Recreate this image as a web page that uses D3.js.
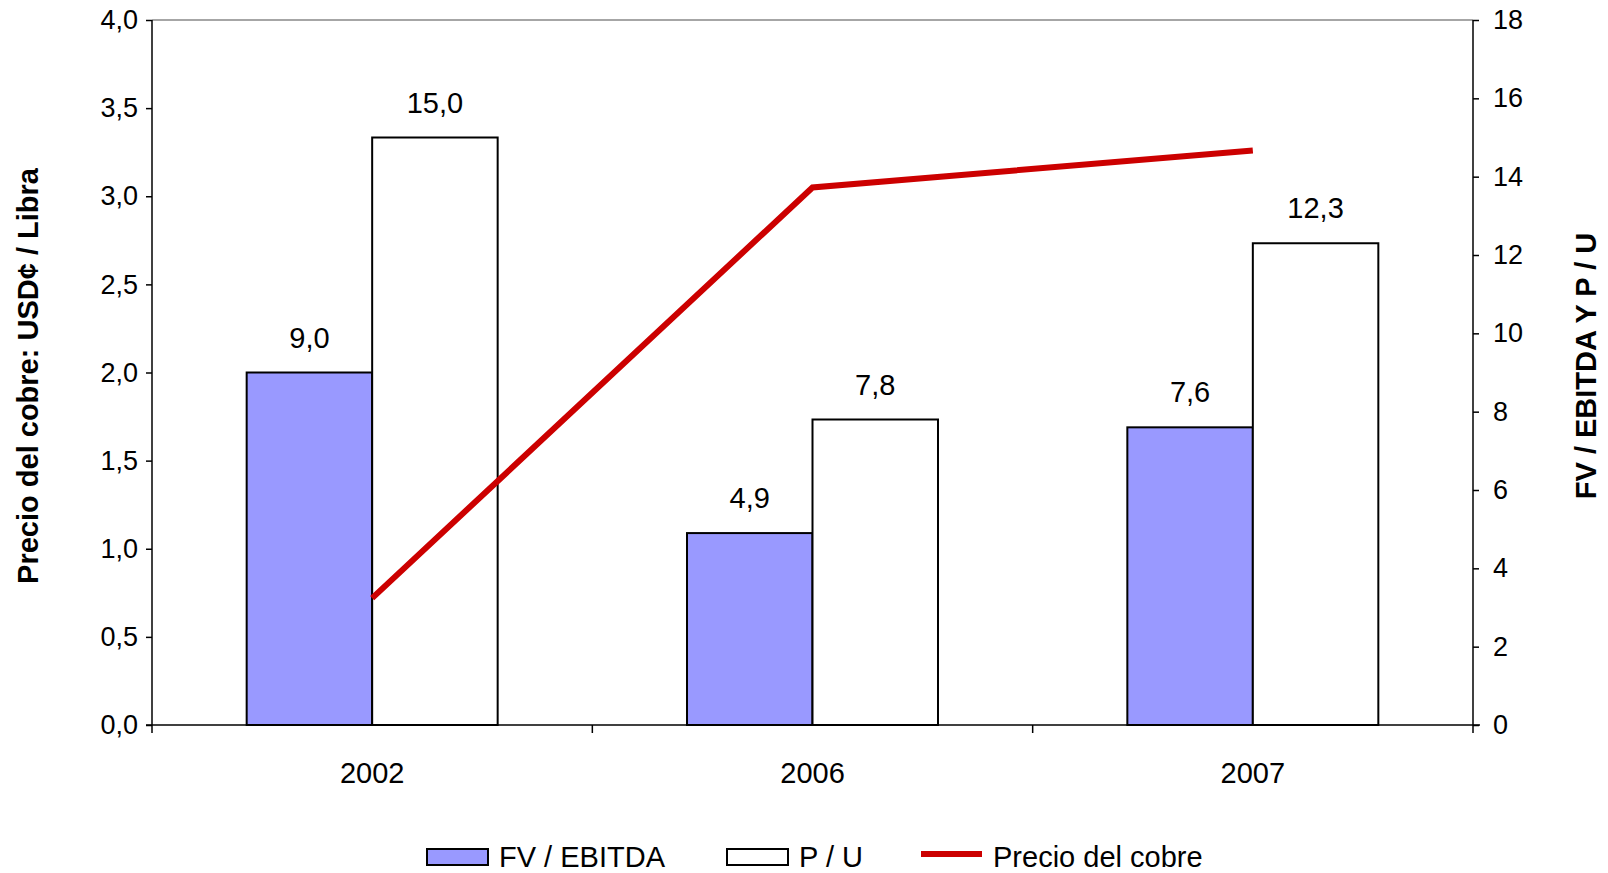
<!DOCTYPE html>
<html>
<head>
<meta charset="utf-8">
<script src="https://cdn.jsdelivr.net/npm/d3@7"></script>
<style>
  html, body { margin: 0; padding: 0; background: #fff; }
  svg { display: block; font-family: "Liberation Sans", Arial, sans-serif; }
</style>
</head>
<body>
<svg id="chart" width="1608" height="873"></svg>
<script>
const categories = ["2002", "2006", "2007"];
const fvEbitda = [9.0, 4.9, 7.6];
const precioUtilidad = [15.0, 7.8, 12.3];
const precioCobre = [0.72, 3.05, 3.26];
const leftTicks = [0, 0.5, 1.0, 1.5, 2.0, 2.5, 3.0, 3.5, 4.0];
const rightTicks = [0, 2, 4, 6, 8, 10, 12, 14, 16, 18];
const seriesNames = ["FV / EBITDA", "P / U", "Precio del cobre"];
const leftTitle = "Precio del cobre: USD¢ / Libra";
const rightTitle = "FV / EBITDA Y P / U";

const locale = d3.formatLocale({decimal: ",", thousands: ".", grouping: [3], currency: ["", ""]});
const f1 = locale.format(".1f");
const f0 = locale.format("d");

const svg = d3.select("#chart");
const L = 152, R = 1473, T = 20, B = 725;

const x = d3.scaleBand().domain(categories).range([L, R]).paddingInner(0).paddingOuter(0);
const yL = d3.scaleLinear().domain([0, 4]).range([B, T]);
const yR = d3.scaleLinear().domain([0, 18]).range([B, T]);
const barW = x.bandwidth() * 0.285;

// plot border top (gray)
svg.append("line").attr("x1", L).attr("x2", R).attr("y1", T).attr("y2", T)
  .attr("stroke", "#888").attr("stroke-width", 1.5);

// bars
const g = svg.append("g");
categories.forEach((c, i) => {
  const cx = x(c) + x.bandwidth() / 2;
  g.append("rect").attr("x", cx - barW).attr("y", yR(fvEbitda[i]))
    .attr("width", barW).attr("height", yR(0) - yR(fvEbitda[i]))
    .attr("fill", "#9999FF").attr("stroke", "#000").attr("stroke-width", 2);
  g.append("rect").attr("x", cx).attr("y", yR(precioUtilidad[i]))
    .attr("width", barW).attr("height", yR(0) - yR(precioUtilidad[i]))
    .attr("fill", "#fff").attr("stroke", "#000").attr("stroke-width", 2);
  g.append("text").attr("x", cx - barW / 2).attr("y", yR(fvEbitda[i]) - 25)
    .attr("text-anchor", "middle").attr("font-size", 29).text(f1(fvEbitda[i]));
  g.append("text").attr("x", cx + barW / 2).attr("y", yR(precioUtilidad[i]) - 25)
    .attr("text-anchor", "middle").attr("font-size", 29).text(f1(precioUtilidad[i]));
});

// copper line
const line = d3.line()
  .x((d, i) => x(categories[i]) + x.bandwidth() / 2)
  .y(d => yL(d));
svg.append("path").datum(precioCobre).attr("d", line)
  .attr("fill", "none").attr("stroke", "#CC0000").attr("stroke-width", 6)
  .attr("stroke-linejoin", "miter");

// left axis
const axL = d3.axisLeft(yL).tickValues(leftTicks).tickFormat(f1).tickSize(6).tickPadding(8);
const gL = svg.append("g").attr("transform", `translate(${L},0)`).call(axL);
gL.select(".domain").attr("stroke", "#000").attr("stroke-width", 1.5).attr("d", `M0,${T}V${B}`);
gL.selectAll(".tick line").attr("stroke", "#000").attr("stroke-width", 1.5);
gL.selectAll(".tick text").attr("font-size", 27).attr("fill", "#000").attr("font-family", "Liberation Sans, Arial, sans-serif");

// right axis
const axR = d3.axisRight(yR).tickValues(rightTicks).tickFormat(f0).tickSize(6).tickPadding(14);
const gR = svg.append("g").attr("transform", `translate(${R},0)`).call(axR);
gR.select(".domain").attr("stroke", "#000").attr("stroke-width", 1.5).attr("d", `M0,${T}V${B}`);
gR.selectAll(".tick line").attr("stroke", "#000").attr("stroke-width", 1.5);
gR.selectAll(".tick text").attr("font-size", 27).attr("fill", "#000").attr("font-family", "Liberation Sans, Arial, sans-serif");

// bottom axis
const axB = d3.axisBottom(x).tickSize(0).tickPadding(0);
const gB = svg.append("g").attr("transform", `translate(0,${B})`).call(axB);
gB.select(".domain").remove();
gB.selectAll(".tick text").attr("font-size", 29).attr("fill", "#000")
  .attr("dy", null).attr("y", 58).attr("font-family", "Liberation Sans, Arial, sans-serif");
svg.append("line").attr("x1", L - 6).attr("x2", R + 7).attr("y1", B).attr("y2", B)
  .attr("stroke", "#000").attr("stroke-width", 1.5);
const bounds = categories.map(c => x(c)).concat([R]);
svg.selectAll(".btick").data(bounds).enter().append("line")
  .attr("x1", d => d).attr("x2", d => d).attr("y1", B).attr("y2", B + 8)
  .attr("stroke", "#000").attr("stroke-width", 1.5);

// axis titles
svg.append("text").attr("transform", `translate(38,376) rotate(-90)`)
  .attr("text-anchor", "middle").attr("font-size", 29).attr("font-weight", "bold")
  .text(leftTitle);
svg.append("text").attr("transform", `translate(1596,366) rotate(-90)`)
  .attr("text-anchor", "middle").attr("font-size", 29).attr("font-weight", "bold")
  .text(rightTitle);

// legend
const lg = svg.append("g");
const legY = 849, legH = 16, legW = 61;
const legX = [427, 727, 921];
lg.append("rect").attr("x", legX[0]).attr("y", legY).attr("width", legW).attr("height", legH)
  .attr("fill", "#9999FF").attr("stroke", "#000").attr("stroke-width", 2);
lg.append("rect").attr("x", legX[1]).attr("y", legY).attr("width", legW).attr("height", legH)
  .attr("fill", "#fff").attr("stroke", "#000").attr("stroke-width", 2);
lg.append("line").attr("x1", legX[2]).attr("x2", legX[2] + legW).attr("y1", 854).attr("y2", 854)
  .attr("stroke", "#CC0000").attr("stroke-width", 6);
seriesNames.forEach((n, i) => {
  lg.append("text").attr("x", legX[i] + legW + 11).attr("y", 867)
    .attr("font-size", 29).text(n);
});
</script>
</body>
</html>
